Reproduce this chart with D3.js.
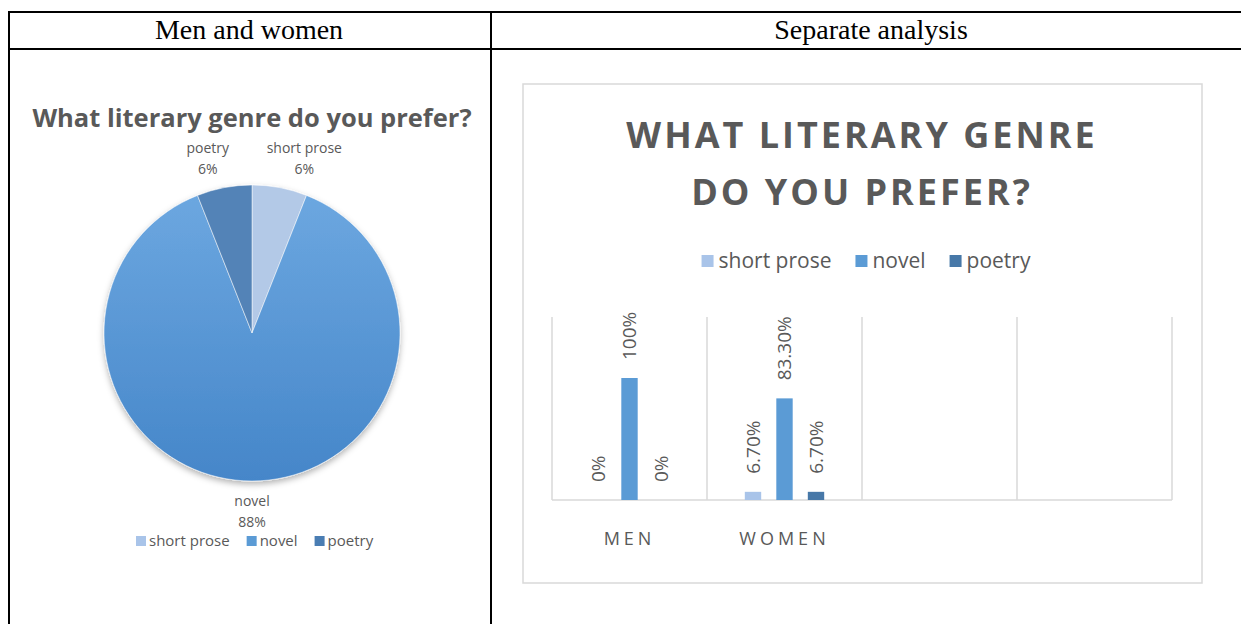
<!DOCTYPE html>
<html>
<head>
<meta charset="utf-8">
<script src="https://cdn.jsdelivr.net/npm/d3@7"></script>
<style>
  body { margin: 0; background: #fff; }
  svg { display: block; }
</style>
</head>
<body>
<svg id="page" width="1241" height="624"></svg>
<script>
  // data
  var genres = ["short prose", "novel", "poetry"];
  var pieValues = [6, 88, 6];
  var groups = ["MEN", "WOMEN", "", ""];
  var shortProse = [0, 6.7];
  var novel = [100, 83.3];
  var poetry = [0, 6.7];

  var pieColors = ["#b3c9e7", "url(#novelGrad)", "#5383b7"];
  var barColors = ["#a9c4e9", "#5b9bd5", "#4778a8"];
  var grey = "#595959";

  var svg = d3.select("#page");
  var defs = svg.append("defs");

  var grad = defs.append("linearGradient")
    .attr("id", "novelGrad")
    .attr("x1", 0).attr("y1", 0).attr("x2", 0).attr("y2", 1);
  grad.append("stop").attr("offset", "0%").attr("stop-color", "#6ca7e0");
  grad.append("stop").attr("offset", "100%").attr("stop-color", "#4586c9");

  var shadow = defs.append("filter").attr("id", "shadow")
    .attr("x", "-20%").attr("y", "-20%").attr("width", "140%").attr("height", "140%");
  shadow.append("feDropShadow")
    .attr("dx", 0).attr("dy", 3).attr("stdDeviation", 3)
    .attr("flood-color", "#000").attr("flood-opacity", 0.3);

  // ---- table frame ----
  var table = svg.append("g").attr("stroke", "#000").attr("stroke-width", 2);
  table.append("line").attr("x1", 8).attr("x2", 1241).attr("y1", 12).attr("y2", 12);
  table.append("line").attr("x1", 8).attr("x2", 1241).attr("y1", 49).attr("y2", 49);
  table.append("line").attr("x1", 9).attr("x2", 9).attr("y1", 11).attr("y2", 624);
  table.append("line").attr("x1", 491).attr("x2", 491).attr("y1", 11).attr("y2", 624);

  svg.append("text").attr("x", 249).attr("y", 39)
    .attr("text-anchor", "middle")
    .style("font", "28px 'Liberation Serif', serif")
    .text("Men and women");
  svg.append("text").attr("x", 871).attr("y", 39)
    .attr("text-anchor", "middle")
    .style("font", "28px 'Liberation Serif', serif")
    .text("Separate analysis");

  // ---- left: pie ----
  svg.append("text").attr("x", 252).attr("y", 127)
    .attr("text-anchor", "middle")
    .attr("fill", grey)
    .style("font-family", "'Open Sans', sans-serif")
    .style("font-weight", "bold")
    .style("font-size", "25.5px")
    .text("What literary genre do you prefer?");

  var cx = 252, cy = 333, r = 148;
  var pie = d3.pie().sort(null)(pieValues);
  var arc = d3.arc().innerRadius(0).outerRadius(r);
  var labelArc = d3.arc().innerRadius(183).outerRadius(183);

  var pg = svg.append("g").attr("transform", "translate(" + cx + "," + cy + ")");
  pg.append("g").attr("filter", "url(#shadow)")
    .selectAll("path")
    .data(pie)
    .join("path")
    .attr("d", arc)
    .attr("fill", function(d, i) { return pieColors[i]; })
    .attr("stroke", "#fff")
    .attr("stroke-width", 0.5);

  var pl = pg.selectAll("text.plabel")
    .data(pie)
    .join("text")
    .attr("class", "plabel")
    .attr("text-anchor", "middle")
    .attr("fill", grey)
    .style("font-family", "'Open Sans', sans-serif")
    .style("font-size", "14px")
    .attr("transform", function(d) {
      var c = labelArc.centroid(d);
      var small = (d.endAngle - d.startAngle) < 1;
      var nudge = small ? (c[0] > 0 ? 18 : -10) : 0;
      return "translate(" + (c[0] + nudge) + "," + (c[1] + (small ? 0 : -10)) + ")";
    });
  pl.append("tspan").attr("x", 0).attr("dy", 0)
    .text(function(d, i) { return genres[i]; });
  pl.append("tspan").attr("x", 0).attr("dy", 21)
    .text(function(d) { return d.data + "%"; });

  // pie legend
  var pleg = svg.append("g").attr("transform", "translate(136,541)");
  var px = 0;
  genres.forEach(function(g, i) {
    var it = pleg.append("g").attr("transform", "translate(" + px + ",0)");
    it.append("rect").attr("x", 0).attr("y", -5).attr("width", 10).attr("height", 10)
      .attr("fill", [barColors[0], barColors[1], "#4a7db3"][i]);
    var t = it.append("text").attr("x", 13).attr("y", 5)
      .attr("fill", grey)
      .style("font-family", "'Open Sans', sans-serif")
      .style("font-size", "15px")
      .text(g);
    px += 13 + t.node().getComputedTextLength() + 17;
  });

  // ---- right: bar chart ----
  svg.append("rect")
    .attr("x", 523).attr("y", 84).attr("width", 679).attr("height", 499)
    .attr("fill", "#fff").attr("stroke", "#d9d9d9").attr("stroke-width", 1.5);

  var title = svg.append("text").attr("text-anchor", "middle")
    .attr("fill", grey)
    .style("font-family", "'Open Sans', sans-serif")
    .style("font-weight", "bold")
    .style("font-size", "36px")
    .style("letter-spacing", "3px");
  title.append("tspan").attr("x", 862).attr("y", 148).text("WHAT LITERARY GENRE");
  title.append("tspan").attr("x", 862).attr("y", 205).text("DO YOU PREFER?");

  // legend
  var bleg = svg.append("g");
  var bx = 0;
  genres.forEach(function(g, i) {
    var it = bleg.append("g").attr("transform", "translate(" + bx + ",0)");
    it.append("rect").attr("x", 0).attr("y", -6).attr("width", 12).attr("height", 12)
      .attr("fill", barColors[i]);
    var t = it.append("text").attr("x", 17).attr("y", 7)
      .attr("fill", grey)
      .style("font-family", "'Open Sans', sans-serif")
      .style("font-size", "21px")
      .text(g);
    bx += 17 + t.node().getComputedTextLength() + (i < 2 ? 24 : 0);
  });
  bleg.attr("transform", "translate(" + (866 - bx / 2) + ",261)");

  var x0 = d3.scaleBand().domain(d3.range(groups.length)).range([552, 1172]);
  var x1 = d3.scaleBand().domain(genres).range([0, x0.bandwidth()])
    .paddingInner(0.48).paddingOuter(1.2);
  var y = d3.scaleLinear().domain([0, 150]).range([500, 317]);

  // grid lines at category edges
  var edges = d3.range(groups.length + 1).map(function(i) {
    return i < groups.length ? x0(i) : x0.range()[1];
  });
  svg.append("g").selectAll("line")
    .data(edges)
    .join("line")
    .attr("x1", function(d) { return d; }).attr("x2", function(d) { return d; })
    .attr("y1", y.range()[1]).attr("y2", y(0))
    .attr("stroke", "#d9d9d9").attr("stroke-width", 1.5);
  svg.append("line")
    .attr("x1", x0.range()[0]).attr("x2", x0.range()[1])
    .attr("y1", y(0)).attr("y2", y(0))
    .attr("stroke", "#d9d9d9").attr("stroke-width", 1.5);

  var series = [shortProse, novel, poetry];
  var bars = [];
  series.forEach(function(vals, s) {
    vals.forEach(function(v, gi) {
      bars.push({ group: gi, genre: genres[s], s: s, value: v });
    });
  });

  function fmt(v) {
    return Number.isInteger(v) ? v + "%" : v.toFixed(2) + "%";
  }

  var bg = svg.append("g");
  bg.selectAll("rect")
    .data(bars)
    .join("rect")
    .attr("x", function(d) { return x0(d.group) + x1(d.genre); })
    .attr("width", x1.bandwidth())
    .attr("y", function(d) { return y(d.value); })
    .attr("height", function(d) { return y(0) - y(d.value); })
    .attr("fill", function(d) { return barColors[d.s]; });

  bg.selectAll("text")
    .data(bars)
    .join("text")
    .attr("transform", function(d) {
      var bxc = x0(d.group) + x1(d.genre) + x1.bandwidth() / 2;
      return "translate(" + bxc + "," + (y(d.value) - 18) + ") rotate(-90)";
    })
    .attr("dy", "0.35em")
    .attr("fill", grey)
    .style("font-family", "'Open Sans', sans-serif")
    .style("font-size", "19px")
    .text(function(d) { return fmt(d.value); });

  // category labels
  svg.append("g").selectAll("text")
    .data(groups)
    .join("text")
    .attr("x", function(d, i) { return x0(i) + x0.bandwidth() / 2; })
    .attr("y", 545)
    .attr("text-anchor", "middle")
    .attr("fill", grey)
    .style("font-family", "'Open Sans', sans-serif")
    .style("font-size", "18px")
    .style("letter-spacing", "4px")
    .text(function(d) { return d; });
</script>
</body>
</html>
